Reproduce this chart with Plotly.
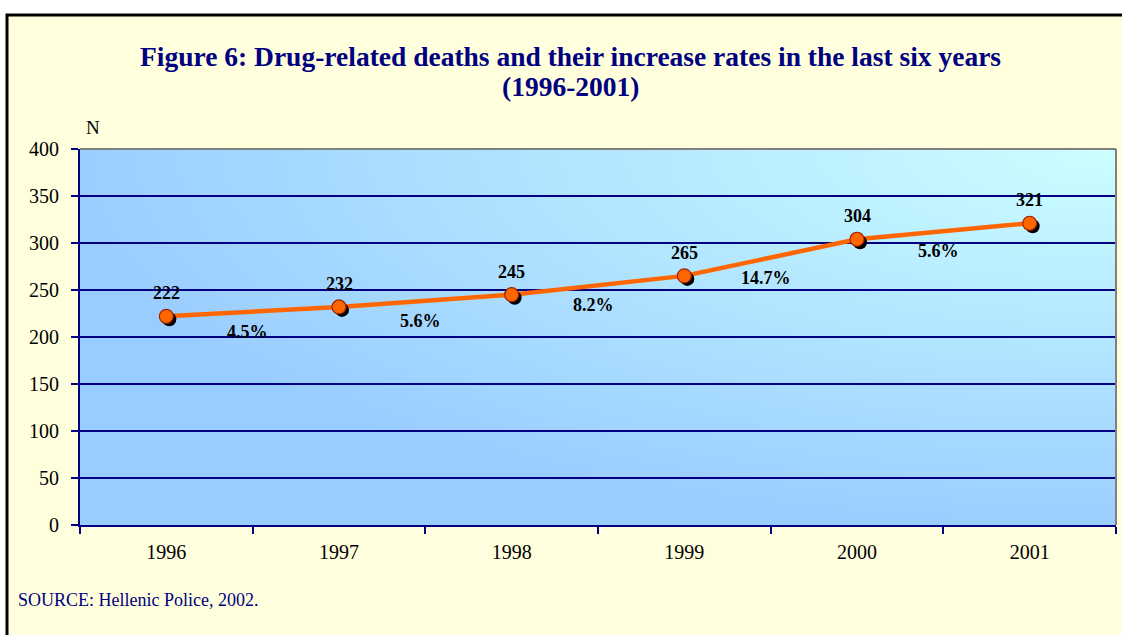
import base64
import plotly.graph_objects as go

# ---- data ----
years = ["1996", "1997", "1998", "1999", "2000", "2001"]
deaths = [222, 232, 245, 265, 304, 321]
increase_labels = ["4.5%", "5.6%", "8.2%", "14.7%", "5.6%"]
y_ticks = [0, 50, 100, 150, 200, 250, 300, 350, 400]

title_lines = ["Figure 6: Drug-related deaths and their increase rates in the last six years",
               "(1996-2001)"]
source_text = "SOURCE: Hellenic Police, 2002."

# ---- layout geometry (pixels) ----
W, H = 1122, 635
L, R, T, B = 80, 6, 149, 110
plot_w = W - L - R
plot_h = H - T - B

NAVY = "#000080"
SERIF = "Liberation Serif, Times New Roman, serif"


def px_x(px):
    return (px - L) / plot_w


def px_y(py):
    return (T + plot_h - py) / plot_h


# gradient background as an svg image
svg = (
    '<svg xmlns="http://www.w3.org/2000/svg" width="100" height="100" viewBox="0 0 100 100" '
    'preserveAspectRatio="none"><defs><radialGradient id="g" cx="1" cy="0" r="1.05" '
    'gradientUnits="objectBoundingBox"><stop offset="0" stop-color="#CCFFFF"/>'
    '<stop offset="1" stop-color="#99CCFF"/></radialGradient></defs>'
    '<rect x="0" y="0" width="100" height="100" fill="url(#g)"/></svg>'
)
svg_uri = "data:image/svg+xml;base64," + base64.b64encode(svg.encode()).decode()

n = len(years)
dx = 3 / plot_w * n
dy = 3 / plot_h * 400

fig = go.Figure()

# line
fig.add_trace(go.Scatter(
    x=years, y=deaths, mode="lines",
    line=dict(color="#FF6600", width=4.5),
    hoverinfo="skip", showlegend=False, xaxis="x", yaxis="y",
))
# marker shadows
fig.add_trace(go.Scatter(
    x=years, y=deaths, mode="markers",
    marker=dict(size=14, color="black", line=dict(width=0)),
    hoverinfo="skip", showlegend=False, xaxis="x2", yaxis="y2",
))
# markers
fig.add_trace(go.Scatter(
    x=years, y=deaths, mode="markers",
    marker=dict(size=14, color="#FF6600", line=dict(width=1.2, color="#992200")),
    showlegend=False, xaxis="x3", yaxis="y3",
))

annotations = []
for i, v in enumerate(deaths):
    annotations.append(dict(
        x=i, y=v, xref="x", yref="y", text=f"<b>{v}</b>", showarrow=False,
        yshift=23, font=dict(family=SERIF, size=18, color="black"),
    ))
for i, lab in enumerate(increase_labels):
    annotations.append(dict(
        x=i + 0.5, y=(deaths[i] + deaths[i + 1]) / 2, xref="x", yref="y",
        text=f"<b>{lab}</b>", showarrow=False, yshift=-20, xshift=-5,
        font=dict(family=SERIF, size=18, color="black"),
    ))
for line, ypix in zip(title_lines, [57, 87]):
    annotations.append(dict(
        x=px_x(570), y=px_y(ypix), xref="paper", yref="paper", text=f"<b>{line}</b>",
        showarrow=False, xanchor="center", yanchor="middle",
        font=dict(family=SERIF, size=27.5, color=NAVY),
    ))
annotations.append(dict(
    x=px_x(93), y=px_y(128), xref="paper", yref="paper", xanchor="center", yanchor="middle",
    text="N", showarrow=False, font=dict(family=SERIF, size=19, color="black"),
))
annotations.append(dict(
    x=px_x(16), y=px_y(600), xref="paper", yref="paper",
    text=source_text, showarrow=False, xanchor="left", yanchor="middle",
    font=dict(family=SERIF, size=18, color=NAVY),
))

shapes = [
    # cream panel with black border
    dict(type="rect", xref="paper", yref="paper",
         x0=px_x(7), x1=px_x(W + 20), y0=px_y(H + 20), y1=px_y(15),
         fillcolor="#FFFFDD", line=dict(color="black", width=3), layer="below"),
    # gray top and right plot borders
    dict(type="line", xref="paper", yref="paper", x0=0, x1=1, y0=1, y1=1,
         line=dict(color="#808080", width=2)),
    dict(type="line", xref="paper", yref="paper", x0=1, x1=1, y0=0, y1=1,
         line=dict(color="#808080", width=2)),
]

axis_font = dict(family=SERIF, size=20, color="black")
xr = [-0.5, n - 0.5]

fig.update_layout(
    width=W, height=H,
    margin=dict(l=L, r=R, t=T, b=B),
    paper_bgcolor="white", plot_bgcolor="#99CCFF",
    xaxis=dict(type="category", categoryarray=years, range=xr, tickson="boundaries",
               ticks="outside", ticklen=7, tickcolor=NAVY, tickwidth=1.5,
               showline=True, linecolor=NAVY, linewidth=2, showgrid=False,
               tickfont=axis_font, ticklabelstandoff=8),
    yaxis=dict(range=[0, 400], tickvals=y_ticks, ticks="outside", ticklen=7,
               tickcolor=NAVY, tickwidth=1.5, showline=True, linecolor=NAVY, linewidth=2,
               showgrid=True, gridcolor=NAVY, gridwidth=1.5, zeroline=False,
               tickfont=axis_font, ticklabelstandoff=8),
    xaxis2=dict(type="category", categoryarray=years, overlaying="x",
                range=[xr[0] - dx, xr[1] - dx], visible=False),
    yaxis2=dict(overlaying="y", range=[0 + dy, 400 + dy], visible=False),
    xaxis3=dict(type="category", categoryarray=years, overlaying="x", range=xr, visible=False),
    yaxis3=dict(overlaying="y", range=[0, 400], visible=False),
    images=[dict(source=svg_uri, xref="x domain", yref="y domain", x=0, y=1,
                 sizex=1, sizey=1, xanchor="left", yanchor="top",
                 sizing="stretch", layer="below")],
    annotations=annotations,
    shapes=shapes,
    showlegend=False,
)

fig.write_html("out.html")
